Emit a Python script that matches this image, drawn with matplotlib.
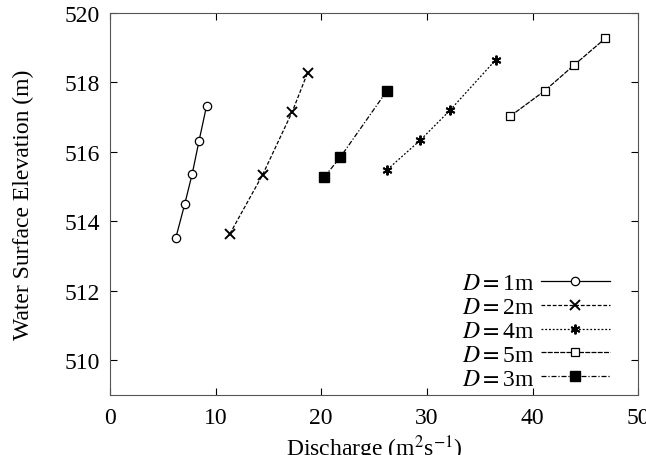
import numpy as np
import matplotlib
matplotlib.use('Agg')
import matplotlib.pyplot as plt

plt.rcParams['font.family'] = ['Liberation Serif', 'DejaVu Serif']
plt.rcParams['mathtext.fontset'] = 'stix'

# Datos (caudal, elevacion)
q_d1 = [6.25, 7.1, 7.8, 8.43, 9.16]
h_d1 = [513.53, 514.51, 515.37, 516.30, 517.33]

q_d2 = [11.36, 14.46, 17.27, 18.72]
h_d2 = [513.64, 515.34, 517.16, 518.28]

q_d4 = [26.26, 29.36, 32.17, 36.52]
h_d4 = [515.49, 516.33, 517.19, 518.65]

q_d5 = [37.91, 41.16, 43.94, 46.9]
h_d5 = [517.03, 517.76, 518.50, 519.27]

q_d3 = [20.3, 21.8, 26.23]
h_d3 = [515.28, 515.84, 517.76]

fig = plt.figure(figsize=(6.46, 4.56), dpi=100)
ax = fig.add_axes([0.170, 0.1316, 0.818, 0.838])

lw = 0.9
ax.plot(q_d1, h_d1, color='black', lw=lw, linestyle='-', marker='o', ms=6,
        mfc='white', mec='black', mew=0.9, label=r'$D=$1m')
ax.plot(q_d2, h_d2, color='black', lw=lw, linestyle=(0, (3, 1.5)), marker='x', ms=7,
        mew=1.4, label=r'$D=$2m')
ax.plot(q_d4, h_d4, color='black', lw=lw, linestyle=(0, (1.5, 1.5)), marker=(6, 2, 0), ms=7,
        mew=1.4, label=r'$D=$4m')
ax.plot(q_d5, h_d5, color='black', lw=lw, linestyle=(0, (4, 1)), marker='s', ms=6,
        mfc='white', mec='black', mew=0.9, label=r'$D=$5m')
ax.plot(q_d3, h_d3, color='black', lw=lw, linestyle=(0, (4, 1.5, 1, 1.5)), marker='s', ms=6.5,
        mfc='black', mec='black', label=r'$D=$3m')

ax.set_xlim(0, 50)
ax.set_ylim(509, 520)
ax.set_xticks([0, 10, 20, 30, 40, 50])
ax.set_yticks([510, 512, 514, 516, 518, 520])
ax.tick_params(direction='in', top=True, right=True, labelsize=17, length=5)
ax.tick_params(axis='x', pad=9)
ax.tick_params(axis='y', pad=7)
for s in ax.spines.values():
    s.set_color('#555555')

ax.set_xlabel(r'Discharge (m$^2$s$^{-1}$)', fontsize=17, labelpad=3)
ax.set_ylabel('Water Surface Elevation (m)', fontsize=17, labelpad=22)

ax.legend(loc='lower right', bbox_to_anchor=(0.975, -0.026), frameon=False,
          markerfirst=False, fontsize=17, handlelength=2.9, labelspacing=0.1,
          borderaxespad=0.35, handletextpad=0.3, borderpad=0.3)

fig.savefig('out.png', dpi=100)
